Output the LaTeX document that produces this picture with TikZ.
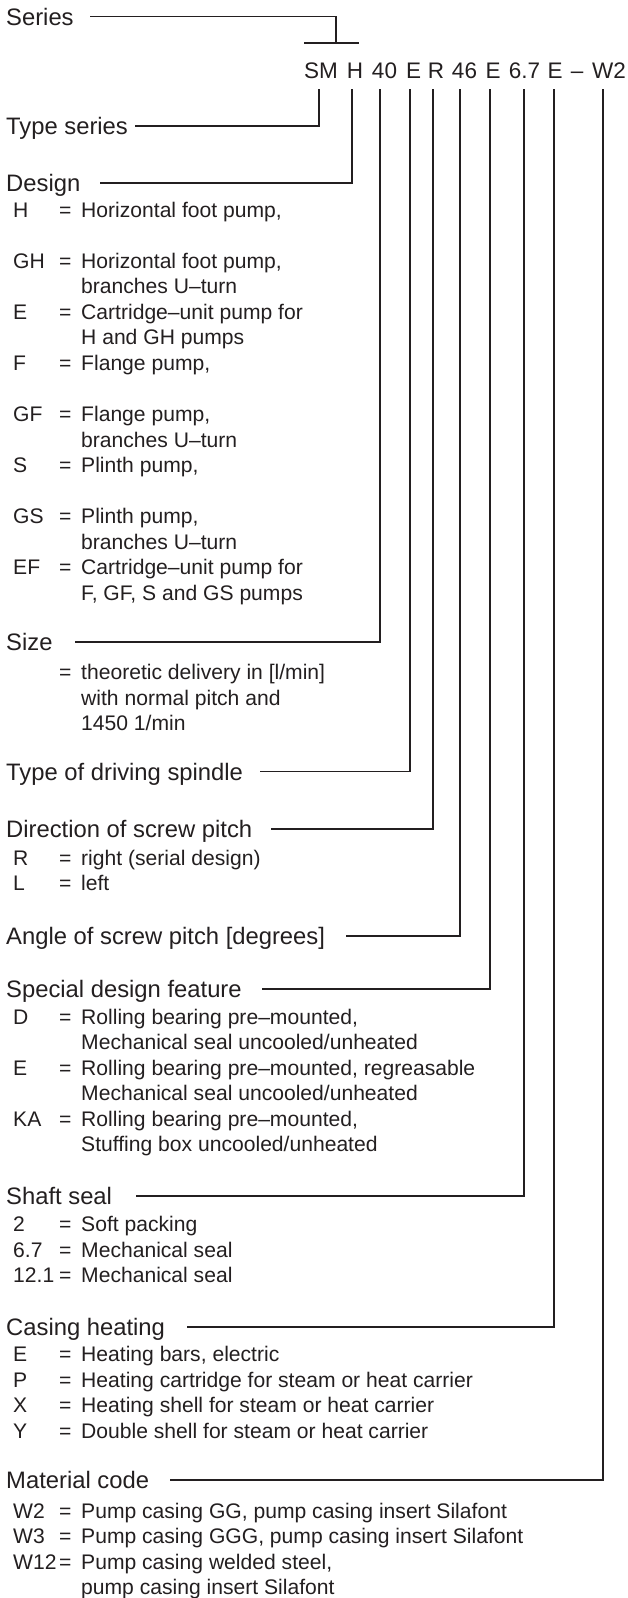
\documentclass[tikz,border=0pt]{standalone}
\usepackage{fontspec}
\setmainfont{Liberation Sans}
\usetikzlibrary{calc}
\definecolor{ink}{RGB}{35,31,32}
\newcommand\entry[4]{%
  \node[itm] (#1c) at (13,#2) {#3};
  \node[itm] (#1e) at (59,#2) {=};
  \node[itm] (#1d) at (81,#2) {#4};}
\newcommand\cont[3]{\node[itm] (#1) at (81,#2) {#3};}
\begin{document}
\begin{tikzpicture}[x=1pt,y=-1pt,
  lab/.style={anchor=base west, inner sep=0pt, text height=17pt, text depth=0pt,
              font=\fontsize{23.8}{28}\selectfont, text=ink},
  itm/.style={anchor=base west, inner sep=0pt, font=\fontsize{21.1}{25}\selectfont, text=ink},
  codetxt/.style={anchor=base, inner sep=0pt, font=\fontsize{22.5}{26}\selectfont, text=ink},
  conn/.style={draw=ink, line width=1.6pt},
]
\fill[white] (0,0) rectangle (627,1598);
\useasboundingbox (0,0) rectangle (627,1598);

% type code
\node[codetxt] (cSM) at (321,78) {SM};
\node[codetxt] (cH) at (355,78) {H};
\node[codetxt] (c40) at (384.5,78) {40};
\node[codetxt] (cEa) at (413.5,78) {E};
\node[codetxt] (cR) at (436,78) {R};
\node[codetxt] (c46) at (464.5,78) {46};
\node[codetxt] (cEb) at (493,78) {E};
\node[codetxt] (c67) at (524.5,78) {6.7};
\node[codetxt] (cEc) at (555,78) {E};
\node[codetxt] (cdash) at (577,78) {–};
\node[codetxt] (cW2) at (609,78) {W2};

% headings
\node[lab] (series) at (6,25) {Series};
\node[lab] (typeseries) at (6,134.5) {Type series};
\node[lab] (design) at (6,191.5) {Design};
\node[lab] (size) at (6,650.5) {Size};
\node[lab] (spindle) at (6,780) {Type of driving spindle};
\node[lab] (direction) at (6,837.5) {Direction of screw pitch};
\node[lab] (angle) at (6,944.5) {Angle of screw pitch [degrees]};
\node[lab] (special) at (6,997.5) {Special design feature};
\node[lab] (shaft) at (6,1204.5) {Shaft seal};
\node[lab] (casing) at (6,1335.5) {Casing heating};
\node[lab] (material) at (6,1488.5) {Material code};

% Design entries
\entry{dH}{217}{H}{Horizontal foot pump,}
\entry{dGH}{268.1}{GH}{Horizontal foot pump,}
\cont{dGHb}{293.7}{branches U–turn}
\entry{dE}{319.2}{E}{Cartridge–unit pump for}
\cont{dEb}{344.8}{H and GH pumps}
\entry{dF}{370.3}{F}{Flange pump,}
\entry{dGF}{421.4}{GF}{Flange pump,}
\cont{dGFb}{447}{branches U–turn}
\entry{dS}{472.5}{S}{Plinth pump,}
\entry{dGS}{523.6}{GS}{Plinth pump,}
\cont{dGSb}{549.2}{branches U–turn}
\entry{dEF}{574.7}{EF}{Cartridge–unit pump for}
\cont{dEFb}{600.3}{F, GF, S and GS pumps}

% Size
\node[itm] (sEq) at (59,679.3) {=};
\cont{sA}{679.3}{theoretic delivery in [l/min]}
\cont{sB}{705}{with normal pitch and}
\cont{sC}{730.7}{1450 1/min}

% Direction
\entry{rR}{865}{R}{right (serial design)}
\entry{rL}{890.5}{L}{left}

% Special design
\entry{pD}{1024}{D}{Rolling bearing pre–mounted,}
\cont{pDb}{1049.5}{Mechanical seal uncooled/unheated}
\entry{pE}{1075}{E}{Rolling bearing pre–mounted, regreasable}
\cont{pEb}{1100.5}{Mechanical seal uncooled/unheated}
\entry{pKA}{1126}{KA}{Rolling bearing pre–mounted,}
\cont{pKAb}{1151.5}{Stuffing box uncooled/unheated}

% Shaft seal
\entry{hA}{1231.7}{2}{Soft packing}
\entry{hB}{1257.2}{6.7}{Mechanical seal}
\entry{hC}{1282.7}{12.1}{Mechanical seal}

% Casing heating
\entry{kE}{1361.7}{E}{Heating bars, electric}
\entry{kP}{1387.2}{P}{Heating cartridge for steam or heat carrier}
\entry{kX}{1412.7}{X}{Heating shell for steam or heat carrier}
\entry{kY}{1438.2}{Y}{Double shell for steam or heat carrier}

% Material code
\entry{mA}{1518}{W2}{Pump casing GG, pump casing insert Silafont}
\entry{mB}{1543.5}{W3}{Pump casing GGG, pump casing insert Silafont}
\entry{mC}{1569}{W12}{Pump casing welded steel,}
\cont{mCb}{1594.5}{pump casing insert Silafont}

% connectors
\coordinate (tee) at ($(cSM.base)+(15,-35)$);
\draw[conn] ([xshift=16.6pt]series.east) -| (tee);
\draw[conn] ($(cSM.base)+(-17,-35)$) -- ($(cSM.base)+(38,-35)$);
\draw[conn] ($(cSM.base)+(-2,11)$) |- ([xshift=7pt]typeseries.east);
\draw[conn] ($(cH.base)+(-3,11)$) |- ([xshift=20pt]design.east);
\draw[conn] ($(c40.base)+(-4.5,11)$) |- ([xshift=22pt]size.east);
\draw[conn] ($(cEa.base)+(-3.5,11)$) |- ([xshift=17pt]spindle.east);
\draw[conn] ($(cR.base)+(-3,11)$) |- ([xshift=19pt]direction.east);
\draw[conn] ($(c46.base)+(-4.5,11)$) |- ([xshift=21pt]angle.east);
\draw[conn] ($(cEb.base)+(-3,11)$) |- ([xshift=20.5pt]special.east);
\draw[conn] ($(c67.base)+(-0.5,11)$) |- ([xshift=24pt]shaft.east);
\draw[conn] ($(cEc.base)+(-1,11)$) |- ([xshift=22pt]casing.east);
\draw[conn] ($(cW2.base)+(-6,11)$) |- ([xshift=21pt]material.east);
\end{tikzpicture}
\end{document}
